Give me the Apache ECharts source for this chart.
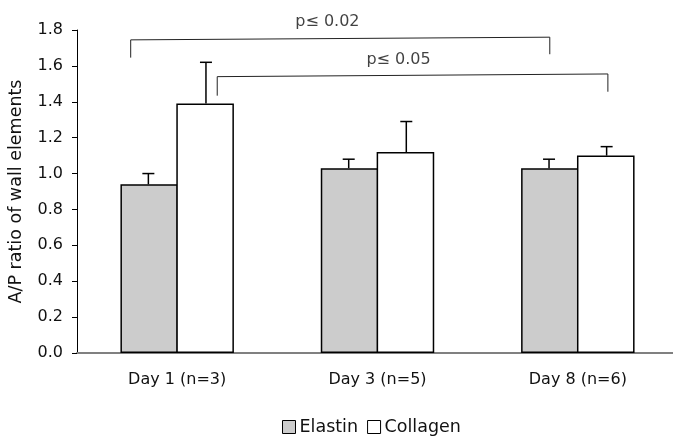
<!DOCTYPE html>
<html>
<head>
<meta charset="utf-8">
<script src="https://cdn.jsdelivr.net/npm/echarts@6/dist/echarts.min.js"></script>
<style>
html, body { margin: 0; padding: 0; background: #fff; }
#chart { width: 673px; height: 436px; }
</style>
</head>
<body>
<div id="chart"></div>
<script>
// 数据
var days      = ['Day 1 (n=3)', 'Day 3 (n=5)', 'Day 8 (n=6)'];
var elastin   = [0.94, 1.03, 1.03];
var elastinSd = [0.06, 0.05, 0.05];
var collagen  = [1.39, 1.12, 1.10];
var collagenSd= [0.23, 0.17, 0.05];
var yTicks    = [0, 1.8, 0.2]; // min, max, interval

// 显著性括号 (x 以类目为单位)
var bracket1  = [[0.268, 1.646], [0.268, 1.745], [2.36, 1.76], [2.36, 1.665]];
var bracket2  = [[0.70, 1.434], [0.70, 1.54], [2.65, 1.555], [2.65, 1.456]];
var pLabels   = [
    { text: 'p\u2264 0.02', pos: [1.25, 1.845] },
    { text: 'p\u2264 0.05', pos: [1.605, 1.636] }
];

var barPct = 0.2875;
var font = 'DejaVu Sans';

function errData(vals, sds) {
    var out = [];
    for (var i = 0; i < vals.length; i++) {
        out.push([i, vals[i], sds[i]]);
    }
    return out;
}

function errRender(sign) {
    return function(params, api) {
        var x = api.value(0);
        var base = api.coord([x, api.value(1)]);
        var top = api.coord([x, api.value(1) + api.value(2)]);
        var band = api.size([1, 0])[0];
        var cx = base[0] + sign * band * barPct / 2;
        var style = { stroke: '#000', lineWidth: 1.5 };
        return {
            type: 'group',
            children: [
                { type: 'line', shape: { x1: cx, y1: base[1], x2: cx, y2: top[1] }, style: style },
                { type: 'line', shape: { x1: cx - 6, y1: top[1], x2: cx + 6, y2: top[1] }, style: style }
            ]
        };
    };
}

var app = echarts.init(document.getElementById('chart'));

var option = {
    animation: false,
    textStyle: { fontFamily: font },
    grid: { left: 77, top: 30, right: -5, bottom: 83, outerBoundsMode: 'none', containLabel: false },
    legend: {
        data: [
            { name: 'Elastin', itemStyle: { color: '#cccccc', borderColor: '#000', borderWidth: 1 } },
            { name: 'Collagen', itemStyle: { color: '#ffffff', borderColor: '#000', borderWidth: 1 } }
        ],
        left: 282,
        top: 418,
        padding: 0,
        icon: 'rect',
        itemWidth: 13,
        itemHeight: 13,
        itemGap: 9,
        textStyle: { fontFamily: font, fontSize: 17.5, color: '#111', padding: [0, 0, 0, -1] }
    },
    xAxis: [{
        type: 'category',
        data: days,
        axisLine: { lineStyle: { color: '#808080', width: 2 } },
        axisTick: { length: 5, lineStyle: { color: '#808080' } },
        axisLabel: { fontFamily: font, fontSize: 16, color: '#111', margin: 19 }
    }, {
        type: 'value',
        min: 0,
        max: 3,
        show: false
    }],
    yAxis: {
        type: 'value',
        min: yTicks[0],
        max: yTicks[1],
        interval: yTicks[2],
        name: 'A/P ratio of wall elements',
        nameLocation: 'middle',
        nameGap: 52,
        nameTextStyle: { fontFamily: font, fontSize: 17.5, color: '#111' },
        splitLine: { show: false },
        axisLine: { show: true, lineStyle: { color: '#000', width: 1 } },
        axisTick: { show: true, length: 5, lineStyle: { color: '#000' } },
        axisLabel: {
            fontFamily: font, fontSize: 16, color: '#111', margin: 14,
            formatter: function(v) { return v.toFixed(1); }
        }
    },
    series: [{
        name: 'Elastin',
        type: 'bar',
        data: elastin,
        barWidth: (barPct * 100) + '%',
        barGap: '-3%',
        itemStyle: { color: '#cccccc', borderColor: '#000', borderWidth: 1.5 }
    }, {
        name: 'Collagen',
        type: 'bar',
        data: collagen,
        barWidth: (barPct * 100) + '%',
        barGap: '-3%',
        itemStyle: { color: '#ffffff', borderColor: '#000', borderWidth: 1.5 }
    }, {
        type: 'custom',
        renderItem: errRender(-1),
        data: errData(elastin, elastinSd),
        z: 3
    }, {
        type: 'custom',
        renderItem: errRender(1),
        data: errData(collagen, collagenSd),
        z: 3
    }, {
        type: 'line',
        xAxisIndex: 1,
        data: bracket1,
        symbol: 'none',
        clip: false,
        lineStyle: { color: '#222', width: 1 }
    }, {
        type: 'line',
        xAxisIndex: 1,
        data: bracket2,
        symbol: 'none',
        clip: false,
        lineStyle: { color: '#222', width: 1 }
    }, {
        type: 'scatter',
        xAxisIndex: 1,
        symbolSize: 0,
        clip: false,
        data: pLabels.map(function(p) { return { value: p.pos, name: p.text }; }),
        label: {
            show: true,
            position: 'inside',
            formatter: function(p) { return p.name; },
            fontFamily: font,
            fontSize: 16,
            color: '#111'
        }
    }]
};

app.setOption(option);
</script>
</body>
</html>
